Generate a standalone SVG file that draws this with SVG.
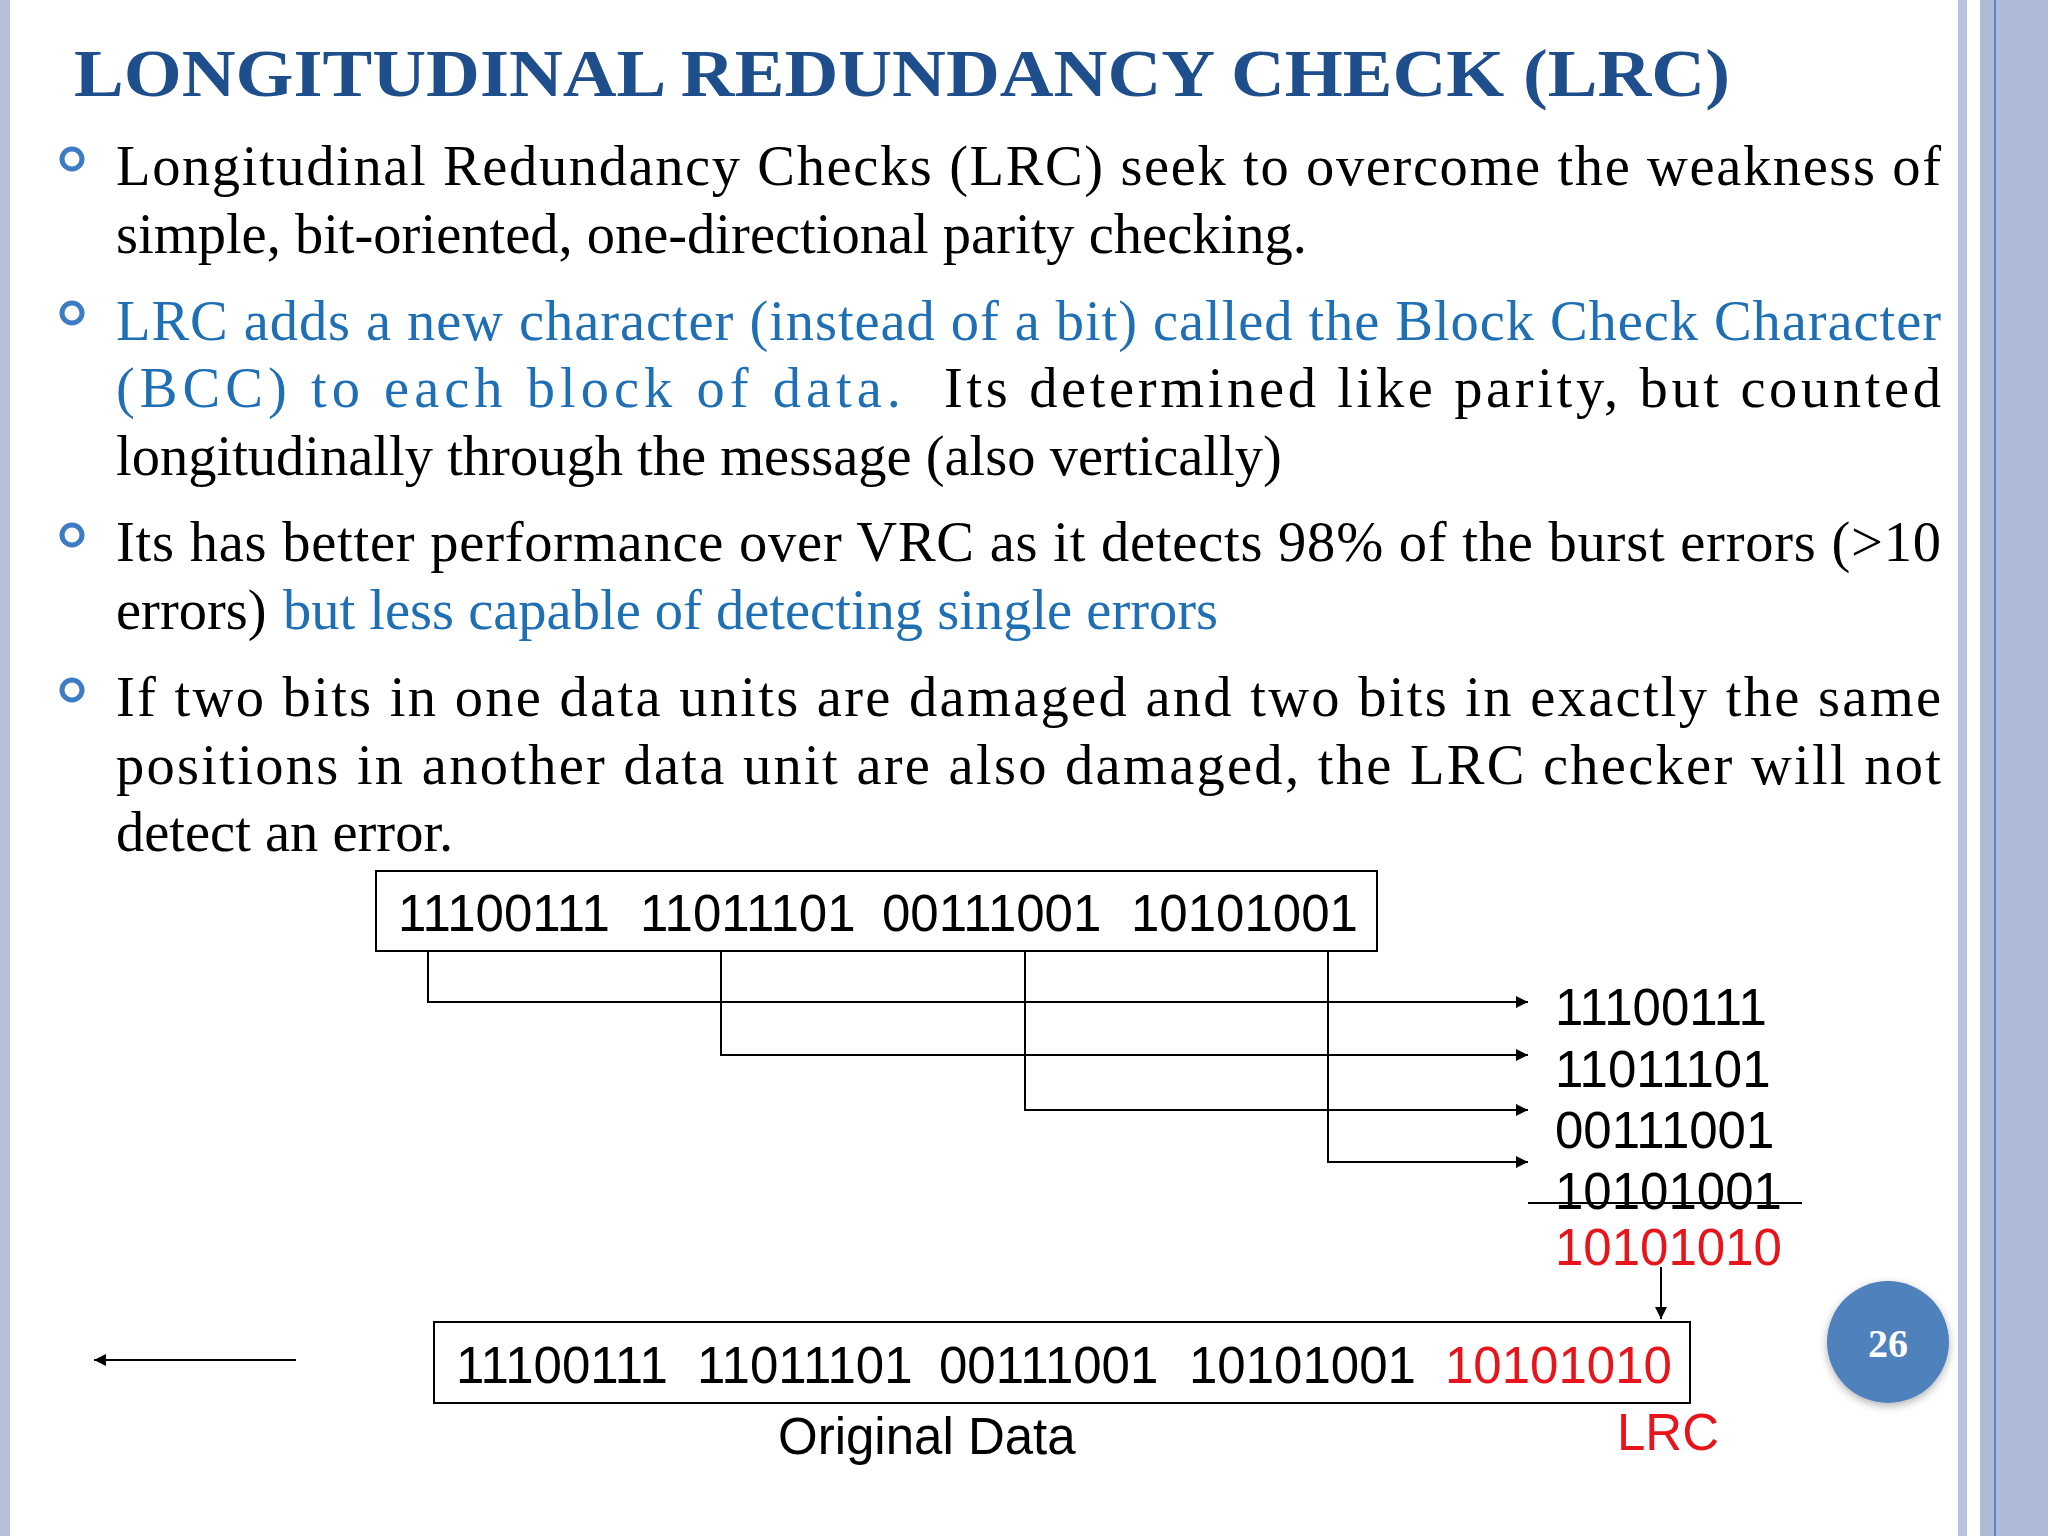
<svg xmlns="http://www.w3.org/2000/svg" width="2048" height="1536" viewBox="0 0 2048 1536">
<defs>
<style>
.b{font-family:"Liberation Serif","Times New Roman",serif;font-size:56.5px;fill:#000}
.bl{fill:#1f6fb4}
.m{font-family:"Liberation Sans",Arial,sans-serif;font-size:51px;fill:#000}
.r{fill:#e8141b}
.ln{stroke:#000;stroke-width:2;fill:none}
</style>
<marker id="ah" viewBox="0 0 10 10" refX="10" refY="5" markerWidth="14" markerHeight="12" markerUnits="userSpaceOnUse" orient="auto"><path d="M0,0L10,5L0,10z" fill="#000"/></marker>
<filter id="sh" x="-30%" y="-30%" width="160%" height="160%"><feDropShadow dx="0" dy="3" stdDeviation="4" flood-opacity="0.3"/></filter>
</defs>
<rect width="2048" height="1536" fill="#fff"/>
<rect x="0" y="0" width="10" height="1536" fill="#b4c0dc"/>
<rect x="1958" y="0" width="9" height="1536" fill="#b8c2e0"/>
<rect x="1980" y="0" width="68" height="1536" fill="#aebad6"/>
<line x1="1995" y1="0" x2="1995" y2="1536" stroke="#5b84c8" stroke-width="2"/>
<g id="title"><text x="74" y="96" font-family="Liberation Serif,serif" font-size="68" font-weight="bold" fill="#1f4e8c" textLength="1656" lengthAdjust="spacingAndGlyphs">LONGITUDINAL REDUNDANCY CHECK (LRC)</text></g>
<g id="bullets" fill="none" stroke="#3b7cc4" stroke-width="5">
<circle cx="72" cy="159" r="10"/><circle cx="72" cy="313" r="10"/><circle cx="72" cy="535" r="10"/><circle cx="72" cy="690" r="10"/>
</g>
<g id="body">
<text class="b" x="116" y="185" textLength="1825" lengthAdjust="spacing">Longitudinal Redundancy Checks (LRC) seek to overcome the weakness of</text>
<text class="b" x="116" y="253">simple, bit-oriented, one-directional parity checking.</text>
<text class="b bl" x="116" y="340" textLength="1825" lengthAdjust="spacing">LRC adds a new character (instead of a bit) called the Block Check Character</text>
<text class="b bl" x="116" y="407" textLength="785" lengthAdjust="spacing">(BCC) to each block of data.</text>
<text class="b" x="944" y="407" textLength="997" lengthAdjust="spacing">Its determined like parity, but counted</text>
<text class="b" x="116" y="475">longitudinally through the message (also vertically)</text>
<text class="b" x="116" y="561" textLength="1825" lengthAdjust="spacing">Its has better performance over VRC as it detects 98% of the burst errors (&gt;10</text>
<text class="b" x="116" y="629">errors) <tspan class="bl" x="283">but less capable of detecting single errors</tspan></text>
<text class="b" x="116" y="716" textLength="1825" lengthAdjust="spacing">If two bits in one data units are damaged and two bits in exactly the same</text>
<text class="b" x="116" y="784" textLength="1825" lengthAdjust="spacing">positions in another data unit are also damaged, the LRC checker will not</text>
<text class="b" x="116" y="851">detect an error.</text>
</g>
<g id="topbox"><rect x="376" y="871" width="1001" height="80" fill="#fff" stroke="#000" stroke-width="2"/>
<text class="m" y="931"><tspan x="398">11100111</tspan><tspan x="640">11011101</tspan><tspan x="882">00111001</tspan><tspan x="1131">10101001</tspan></text></g>
<g id="connectors">
<path class="ln" d="M428,951V1002H1528" marker-end="url(#ah)"/>
<path class="ln" d="M721,951V1055H1528" marker-end="url(#ah)"/>
<path class="ln" d="M1025,951V1110H1528" marker-end="url(#ah)"/>
<path class="ln" d="M1328,951V1162H1528" marker-end="url(#ah)"/>
<line class="ln" x1="1528" y1="1203" x2="1802" y2="1203"/>
<path class="ln" d="M1661,1267V1319" marker-end="url(#ah)"/>
<path class="ln" d="M296,1360H94" marker-end="url(#ah)"/>
</g>
<g id="stack">
<text class="m" x="1555" y="1025">11100111</text>
<text class="m" x="1555" y="1087">11011101</text>
<text class="m" x="1555" y="1148">00111001</text>
<text class="m" x="1555" y="1209">10101001</text>
<text class="m r" x="1555" y="1265">10101010</text>
</g>
<g id="bottombox"><rect x="434" y="1322" width="1256" height="81" fill="#fff" stroke="#000" stroke-width="2"/>
<text class="m" y="1383"><tspan x="456">11100111</tspan><tspan x="697">11011101</tspan><tspan x="939">00111001</tspan><tspan x="1189">10101001</tspan><tspan class="r" x="1445">10101010</tspan></text></g>
<g id="labels">
<text class="m" x="778" y="1454">Original Data</text>
<text class="m r" x="1617" y="1450">LRC</text>
</g>
<g id="page"><circle cx="1888" cy="1342" r="61" fill="#4f81bd" filter="url(#sh)"/>
<text x="1888" y="1357" text-anchor="middle" font-family="Liberation Serif,serif" font-weight="bold" font-size="40" fill="#fff">26</text></g>
</svg>
